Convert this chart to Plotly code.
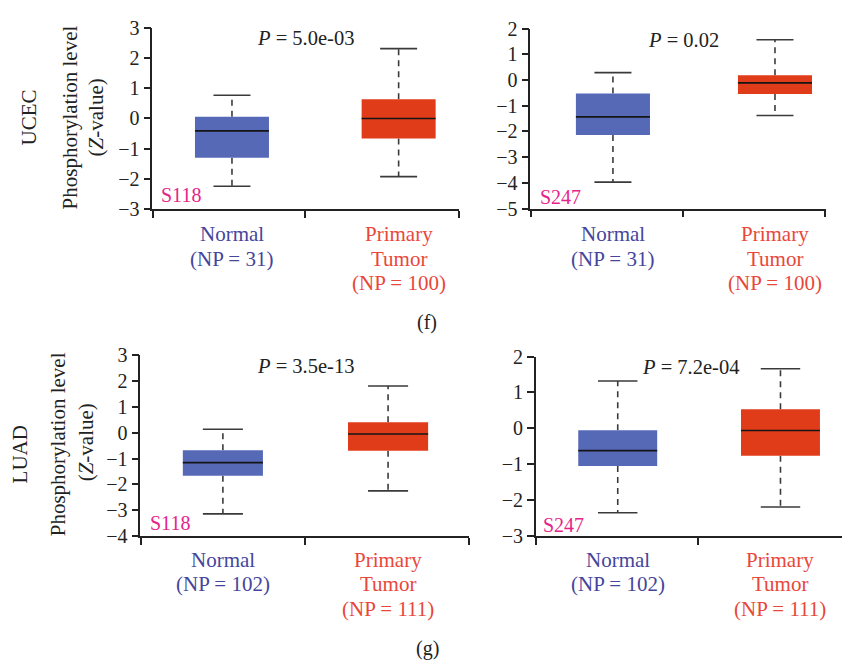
import plotly.graph_objects as go

W, H = 842, 669
FONT = "Liberation Serif"

# Box statistics per panel: [Normal, Primary Tumor]
groups = ["Normal", "Primary Tumor"]

ucec_s118_lower = [-2.24, -1.92]
ucec_s118_q1 = [-1.30, -0.66]
ucec_s118_median = [-0.41, 0.00]
ucec_s118_q3 = [0.06, 0.64]
ucec_s118_upper = [0.77, 2.31]

ucec_s247_lower = [-3.97, -1.38]
ucec_s247_q1 = [-2.14, -0.54]
ucec_s247_median = [-1.43, -0.11]
ucec_s247_q3 = [-0.52, 0.19]
ucec_s247_upper = [0.29, 1.57]

luad_s118_lower = [-3.14, -2.25]
luad_s118_q1 = [-1.67, -0.70]
luad_s118_median = [-1.16, -0.05]
luad_s118_q3 = [-0.68, 0.40]
luad_s118_upper = [0.13, 1.80]

luad_s247_lower = [-2.35, -2.19]
luad_s247_q1 = [-1.05, -0.76]
luad_s247_median = [-0.62, -0.06]
luad_s247_q3 = [-0.05, 0.53]
luad_s247_upper = [1.32, 1.66]

p_values = ["5.0e-03", "0.02", "3.5e-13", "7.2e-04"]
sites = ["S118", "S247", "S118", "S247"]
np_ucec = [31, 100]
np_luad = [102, 111]
cancer_types = ["UCEC", "LUAD"]

BOX_COLORS = ["#5669b7", "#e03c1a"]
TEXT_COLORS = ["#45459c", "#e8473a"]
SITE_COLOR = "#e5248a"
INK = "#222222"


def px_x(p):
    return p / W


def px_y(p):
    return 1 - p / H


# panel geometry in pixels: x domain, y domain (top, bottom), ranges, x tick positions
panels = [
    dict(stats=(ucec_s118_lower, ucec_s118_q1, ucec_s118_median, ucec_s118_q3, ucec_s118_upper),
         xd=(152.3, 459.3), yd=(17.3, 205.0), yr=(-3, 3), xr=(0.522, 2.364),
         xt=[0.524, 1.44, 2.362], bw=0.444, np=np_ucec, row=0),
    dict(stats=(ucec_s247_lower, ucec_s247_q1, ucec_s247_median, ucec_s247_q3, ucec_s247_upper),
         xd=(530.3, 825.7), yd=(18.3, 204.3), yr=(-5, 2), xr=(0.49, 2.313),
         xt=[0.492, 1.43, 2.311], bw=0.457, np=np_ucec, row=0),
    dict(stats=(luad_s118_lower, luad_s118_q1, luad_s118_median, luad_s118_q3, luad_s118_upper),
         xd=(140.3, 469.0), yd=(355.7, 543.0), yr=(-4, 3), xr=(0.5, 2.49),
         xt=[0.502, 1.497, 2.488], bw=0.485, np=np_luad, row=1),
    dict(stats=(luad_s247_lower, luad_s247_q1, luad_s247_median, luad_s247_q3, luad_s247_upper),
         xd=(535.7, 842.0), yd=(357.3, 543.0), yr=(-3, 2), xr=(0.496, 2.378),
         xt=[0.498, 1.495], bw=0.485, np=np_luad, row=1),
]

fig = go.Figure()
layout = dict(
    width=W, height=H, margin=dict(l=0, r=0, t=0, b=0),
    paper_bgcolor="white", plot_bgcolor="white", showlegend=False,
    font=dict(family=FONT, color=INK, size=20),
)
annotations = []

for k, pnl in enumerate(panels):
    sfx = "" if k == 0 else str(k + 1)
    xa, ya = "x" + sfx, "y" + sfx
    lower, q1, med, q3, upper = pnl["stats"]
    bw = pnl["bw"]
    cw = bw / 2
    for i in range(2):
        xc = i + 1
        # dashed whiskers
        for a, b in ((q3[i], upper[i]), (q1[i], lower[i])):
            fig.add_trace(go.Scatter(x=[xc, xc], y=[a, b], mode="lines", xaxis=xa, yaxis=ya,
                                     line=dict(color="#3a3a3a", width=1.6, dash="6px,5px"),
                                     hoverinfo="skip"))
        # whisker caps
        for v in (upper[i], lower[i]):
            fig.add_trace(go.Scatter(x=[xc - cw / 2, xc + cw / 2], y=[v, v], mode="lines",
                                     xaxis=xa, yaxis=ya,
                                     line=dict(color="#3a3a3a", width=1.6), hoverinfo="skip"))
        # box body
        fig.add_trace(go.Scatter(
            x=[xc - bw / 2, xc + bw / 2, xc + bw / 2, xc - bw / 2, xc - bw / 2],
            y=[q1[i], q1[i], q3[i], q3[i], q1[i]],
            mode="lines", fill="toself", fillcolor=BOX_COLORS[i],
            line=dict(width=0, color=BOX_COLORS[i]), xaxis=xa, yaxis=ya, hoverinfo="skip"))
        # median
        fig.add_trace(go.Scatter(x=[xc - bw / 2, xc + bw / 2], y=[med[i], med[i]], mode="lines",
                                 xaxis=xa, yaxis=ya, line=dict(color="#151515", width=1.6),
                                 hoverinfo="skip"))

    layout["xaxis" + sfx] = dict(
        domain=[px_x(pnl["xd"][0]), px_x(pnl["xd"][1])], range=list(pnl["xr"]),
        anchor=ya, showgrid=False, zeroline=False, showline=True, linecolor=INK, linewidth=1.5,
        ticks="outside", ticklen=7, tickwidth=1.5, tickcolor=INK,
        tickvals=pnl["xt"], ticktext=[""] * len(pnl["xt"]), fixedrange=True)
    layout["yaxis" + sfx] = dict(
        domain=[px_y(pnl["yd"][1]), px_y(pnl["yd"][0])], range=list(pnl["yr"]),
        anchor=xa, showgrid=False, zeroline=False, showline=True, linecolor=INK, linewidth=1.5,
        ticks="outside", ticklen=7, tickwidth=1.5, tickcolor=INK, dtick=1,
        tickfont=dict(family=FONT, size=20, color=INK), fixedrange=True)

    # category labels under each box
    top = 231 if pnl["row"] == 0 else 568
    for i in range(2):
        lines = ["Normal"] if i == 0 else ["Primary", "Tumor"]
        lines = lines + [f"(NP = {pnl['np'][i]})"]
        for j, t in enumerate(lines):
            annotations.append(dict(
                x=i + 1, xref=xa, y=px_y(top + 25 * j), yref="paper", text=t, showarrow=False,
                xanchor="center", yanchor="middle",
                font=dict(family=FONT, size=21, color=TEXT_COLORS[i])))

# P-value labels
p_pos = [(305, 28), (683, 30), (305, 367), (690, 368)]
for (x, y), p in zip(p_pos, p_values):
    annotations.append(dict(x=px_x(x), y=px_y(y), xref="paper", yref="paper",
                            text=f"<i>P</i> = {p}", showarrow=False,
                            xanchor="center", yanchor="middle",
                            font=dict(family=FONT, size=20.5, color=INK)))

# phosphosite labels
s_pos = [(159, 190), (538, 192), (148, 529.5), (541, 531)]
for (x, y), s in zip(s_pos, sites):
    annotations.append(dict(x=px_x(x), y=px_y(y), xref="paper", yref="paper", text=s,
                            showarrow=False, xanchor="left", yanchor="middle",
                            font=dict(family=FONT, size=20, color=SITE_COLOR)))

# row titles and y-axis titles
for (cx, cy), (tx1, ty1), (tx2, ty2), name in [
    ((29, 110), (70, 110), (96, 110), cancer_types[0]),
    ((19.5, 459), (58, 448), (86, 446), cancer_types[1]),
]:
    annotations.append(dict(x=px_x(cx), y=px_y(cy), xref="paper", yref="paper", text=name,
                            showarrow=False, textangle=-90, xanchor="center", yanchor="middle",
                            font=dict(family=FONT, size=21, color=INK)))
    annotations.append(dict(x=px_x(tx1), y=px_y(ty1), xref="paper", yref="paper",
                            text="Phosphorylation level", showarrow=False, textangle=-90,
                            xanchor="center", yanchor="middle",
                            font=dict(family=FONT, size=21, color=INK)))
    annotations.append(dict(x=px_x(tx2), y=px_y(ty2), xref="paper", yref="paper",
                            text="(<i>Z</i>-value)", showarrow=False, textangle=-90,
                            xanchor="center", yanchor="middle",
                            font=dict(family=FONT, size=21, color=INK)))

# figure part labels
for (x, y), t in [((427, 322), "(f)"), ((427, 659), "(g)")]:
    annotations.append(dict(x=px_x(x), y=px_y(y), xref="paper", yref="paper", text=t,
                            showarrow=False, xanchor="center", yanchor="middle",
                            font=dict(family=FONT, size=20, color=INK)))

layout["annotations"] = annotations
fig.update_layout(**layout)
fig.write_html("out.html")
